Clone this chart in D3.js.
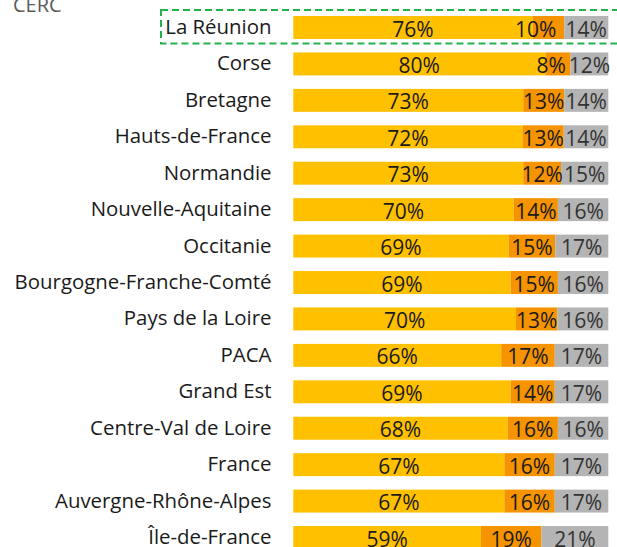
<!DOCTYPE html>
<html>
<head>
<meta charset="utf-8">
<script src="https://cdn.jsdelivr.net/npm/d3@7"></script>
<style>
  html, body { margin: 0; padding: 0; background: #ffffff; }
  svg { display: block; font-family: "Open Sans", sans-serif; }
</style>
</head>
<body>
<svg id="chart" width="617" height="547"></svg>
<script>
const regions = [
  "La Réunion", "Corse", "Bretagne", "Hauts-de-France", "Normandie",
  "Nouvelle-Aquitaine", "Occitanie", "Bourgogne-Franche-Comté",
  "Pays de la Loire", "PACA", "Grand Est", "Centre-Val de Loire",
  "France", "Auvergne-Rhône-Alpes", "Île-de-France",
];
const shareA = [76, 80, 73, 72, 73, 70, 69, 69, 70, 66, 69, 68, 67, 67, 59];
const shareB = [10, 8, 13, 13, 12, 14, 15, 15, 13, 17, 14, 16, 16, 16, 19];
const shareC = [14, 12, 14, 14, 15, 16, 17, 16, 16, 17, 17, 16, 17, 17, 21];
const seriesKeys = ["a", "b", "c"];
const highlighted = "La Réunion";
const sourceText = "CERC";

const colors = { a: "#ffc000", b: "#f59300", c: "#b4b4b4" };
const labelColors = { a: "#1a1a1a", b: "#1a1a1a", c: "#333333" };

const rows = regions.map((r, i) => ({
  region: r, a: shareA[i], b: shareB[i], c: shareC[i],
}));

const svg = d3.select("#chart");

const step = 36.43;
const y = d3.scaleBand()
  .domain(regions)
  .range([27.5 - step / 2, 27.5 - step / 2 + step * regions.length])
  .paddingInner(0.37)
  .paddingOuter(0.185);

const x = d3.scaleLinear().domain([0, 1]).range([293.3, 608.3]);

const stacked = d3.stack()
  .keys(seriesKeys)
  .offset(d3.stackOffsetExpand)(rows);

// source line, cut by the top edge
svg.append("text")
  .attr("x", 13)
  .attr("y", 12)
  .attr("font-size", 20)
  .attr("fill", "#5a5a5a")
  .text(sourceText);

// bars
const layers = svg.append("g")
  .selectAll("g")
  .data(stacked)
  .join("g")
  .attr("fill", (d) => colors[d.key]);

layers.selectAll("rect")
  .data((d) => d)
  .join("rect")
  .attr("x", (d) => x(d[0]))
  .attr("y", (d) => y(d.data.region))
  .attr("width", (d) => x(d[1]) - x(d[0]))
  .attr("height", y.bandwidth());

// category labels
svg.append("g")
  .selectAll("text")
  .data(regions)
  .join("text")
  .attr("x", 271.5)
  .attr("y", (d) => y(d) + y.bandwidth() / 2 + 6.5)
  .attr("text-anchor", "end")
  .attr("font-size", 20.4)
  .attr("fill", "#1a1a1a")
  .text((d) => d);

// value labels, centered in each segment
const labelG = svg.append("g");
const labels = {};
for (const layer of stacked) {
  labels[layer.key] = labelG.selectAll(null)
    .data(layer)
    .join("text")
    .attr("x", (d) => (x(d[0]) + x(d[1])) / 2)
    .attr("y", (d) => y(d.data.region) + y.bandwidth() / 2 + 9)
    .attr("text-anchor", "middle")
    .attr("font-size", 21)
    .attr("fill", labelColors[layer.key])
    .text((d) => d.data[layer.key] + "%");
}

// push the middle label left when it runs into the grey one
labels.b.each(function (d, i) {
  const w = this.getComputedTextLength();
  const mid = (x(d[0]) + x(d[1])) / 2;
  const grey = labels.c.nodes()[i];
  const gw = grey.getComputedTextLength();
  const gLeft = (x(stacked[2][i][0]) + x(stacked[2][i][1])) / 2 - gw / 2;
  if (mid + w / 2 > gLeft + 1) {
    d3.select(this).attr("text-anchor", "end").attr("x", mid + 8);
  }
});

// dashed highlight box
svg.append("rect")
  .attr("x", 161)
  .attr("y", y(highlighted) - 6)
  .attr("width", 470)
  .attr("height", y.bandwidth() + 10.5)
  .attr("fill", "none")
  .attr("stroke", "#22b14c")
  .attr("stroke-width", 2)
  .attr("stroke-dasharray", "7,4");
</script>
</body>
</html>
